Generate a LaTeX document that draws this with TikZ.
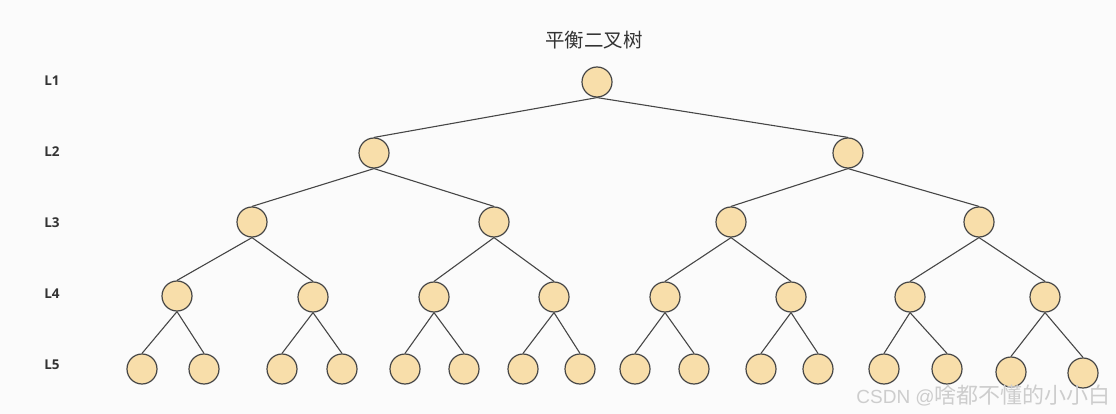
\documentclass[tikz,border=0pt]{standalone}
\usepackage{fontspec}
\setmainfont{Open Sans}
\newfontfamily\lblfont{Open Sans}[BoldFont={* Bold}]
\newfontfamily\cjkfont{Noto Sans CJK SC}
\newfontfamily\wmfont{Liberation Sans}
\definecolor{nodefill}{RGB}{248,222,170}
\definecolor{nodeedge}{RGB}{70,70,70}
\definecolor{inktext}{RGB}{51,51,51}
\definecolor{bgcol}{RGB}{251,251,251}
\definecolor{wmcol}{RGB}{205,205,205}
\tikzset{
  tn/.style={circle, draw=nodeedge, fill=nodefill, line width=1.2pt, minimum size=30pt, inner sep=0pt},
  lvl/.style={font=\lblfont\bfseries\fontsize{13.5}{13.5}\selectfont, text=inktext},
  edge/.style={draw=nodeedge, line width=1.1pt},
}
\begin{document}
\begin{tikzpicture}[x=1pt,y=-1pt]
\fill[bgcol] (0,0) rectangle (1116,414);
\useasboundingbox (0,0) rectangle (1116,414);
% title
\node[font=\cjkfont\fontsize{19.5}{19.5}\selectfont, text=inktext] (title) at (594,40) {平衡二叉树};
% level labels
\node[lvl] (l1) at (52,81) {L1};
\node[lvl] (l2) at (52,152) {L2};
\node[lvl] (l3) at (52,223) {L3};
\node[lvl] (l4) at (52,294) {L4};
\node[lvl] (l5) at (52,365) {L5};
% nodes
\node[tn] (a) at (597,82) {};
\node[tn] (b1) at (374,153) {};
\node[tn] (b2) at (848,153) {};
\node[tn] (c1) at (252,222) {};
\node[tn] (c2) at (494,222) {};
\node[tn] (c3) at (731,222) {};
\node[tn] (c4) at (979,222) {};
\node[tn] (d1) at (177,296) {};
\node[tn] (d2) at (313,297) {};
\node[tn] (d3) at (434,297) {};
\node[tn] (d4) at (554,297) {};
\node[tn] (d5) at (665,297) {};
\node[tn] (d6) at (791,297) {};
\node[tn] (d7) at (910,297) {};
\node[tn] (d8) at (1045,297) {};
\node[tn] (e1) at (142,369) {};
\node[tn] (e2) at (204,369) {};
\node[tn] (e3) at (282,369) {};
\node[tn] (e4) at (342,369) {};
\node[tn] (e5) at (405,369) {};
\node[tn] (e6) at (464,369) {};
\node[tn] (e7) at (523,369) {};
\node[tn] (e8) at (580,369) {};
\node[tn] (e9) at (635,369) {};
\node[tn] (e10) at (694,369) {};
\node[tn] (e11) at (761,369) {};
\node[tn] (e12) at (818,369) {};
\node[tn] (e13) at (884,369) {};
\node[tn] (e14) at (947,369) {};
\node[tn] (e15) at (1011,372) {};
\node[tn] (e16) at (1083,373) {};
% edges: parent bottom to child top
\path[edge] (a.south) -- (b1.north) (a.south) -- (b2.north);
\path[edge] (b1.south) -- (c1.north) (b1.south) -- (c2.north)
            (b2.south) -- (c3.north) (b2.south) -- (c4.north);
\path[edge] (c1.south) -- (d1.north) (c1.south) -- (d2.north)
            (c2.south) -- (d3.north) (c2.south) -- (d4.north)
            (c3.south) -- (d5.north) (c3.south) -- (d6.north)
            (c4.south) -- (d7.north) (c4.south) -- (d8.north);
\path[edge] (d1.south) -- (e1.north) (d1.south) -- (e2.north)
            (d2.south) -- (e3.north) (d2.south) -- (e4.north)
            (d3.south) -- (e5.north) (d3.south) -- (e6.north)
            (d4.south) -- (e7.north) (d4.south) -- (e8.north)
            (d5.south) -- (e9.north) (d5.south) -- (e10.north)
            (d6.south) -- (e11.north) (d6.south) -- (e12.north)
            (d7.south) -- (e13.north) (d7.south) -- (e14.north)
            (d8.south) -- (e15.north) (d8.south) -- (e16.north);
% watermark
\node[anchor=east, inner sep=0pt, text=wmcol] (wm) at (1111,396) {{\wmfont\fontsize{19}{19}\selectfont CSDN @}{\cjkfont\fontsize{22}{22}\selectfont 啥都不懂的小小白}};
\end{tikzpicture}
\end{document}
